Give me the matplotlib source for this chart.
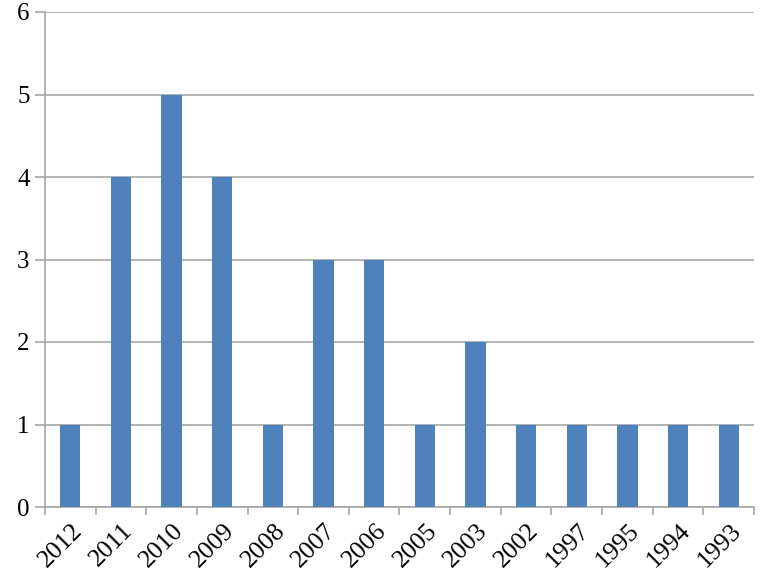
import matplotlib
matplotlib.use("Agg")
import matplotlib.pyplot as plt
import numpy as np

years = ["2012", "2011", "2010", "2009", "2008", "2007", "2006", "2005",
         "2003", "2002", "1997", "1995", "1994", "1993"]
counts = [1, 4, 5, 4, 1, 3, 3, 1, 2, 1, 1, 1, 1, 1]
yticks = [0, 1, 2, 3, 4, 5, 6]

plt.rcParams['font.family'] = ['Liberation Serif', 'DejaVu Serif']

fig = plt.figure(figsize=(7.61, 5.86), dpi=100)
ax = fig.add_axes([45/761, 79/586, 709/761, 495/586])

x = np.arange(len(years))
ax.bar(x, counts, width=0.4, color='#4F81BD', zorder=3)
ax.set_xlim(-0.5, len(years) - 0.5)
ax.set_ylim(0, 6)
ax.set_yticks(yticks)
ax.set_yticklabels([str(v) for v in yticks], fontsize=18)
ax.yaxis.grid(True, color='#A6A6A6', linewidth=1.2, zorder=0)

ax.set_xticks(x + 0.02)
ax.set_xticklabels(years, rotation=45, ha='right', rotation_mode='anchor', fontsize=18.5)
ax.tick_params(axis='x', length=0, pad=9)
ax.set_xticks(np.arange(-0.5, len(years)), minor=True)
ax.tick_params(axis='x', which='minor', length=6, color='#A6A6A6', width=1.2)
ax.tick_params(axis='y', length=7, color='#A6A6A6', width=1.2, pad=4)

for s in ['top', 'right']:
    ax.spines[s].set_visible(False)
for s in ['left', 'bottom']:
    ax.spines[s].set_color('#A6A6A6')
    ax.spines[s].set_linewidth(1.2)

fig.savefig("out.png", dpi=100)
